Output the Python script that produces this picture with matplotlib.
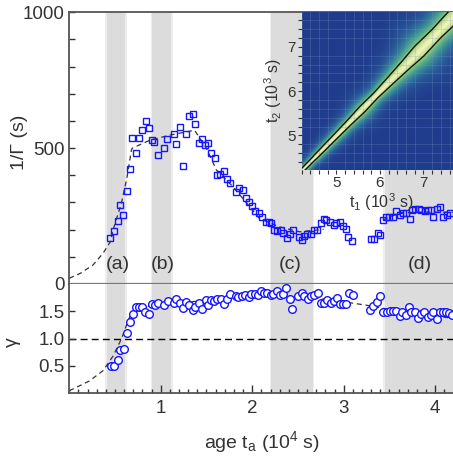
import numpy as np
import matplotlib
matplotlib.use("Agg")
import matplotlib.pyplot as plt
from matplotlib.colors import LinearSegmentedColormap
from matplotlib.ticker import MultipleLocator, FixedLocator

plt.rcParams['font.family'] = ['Liberation Sans', 'DejaVu Sans']
plt.rcParams['mathtext.default'] = 'regular'

# 1/Gamma vs age (top panel), x in 1e4 s, y in s
age_rate = [0.45, 0.49, 0.53, 0.56, 0.59, 0.63, 0.66, 0.69, 0.73, 0.76,
            0.80, 0.84, 0.87, 0.90, 0.93, 0.97, 1.04, 1.07, 1.14, 1.17,
            1.21, 1.24, 1.28, 1.31, 1.35, 1.38, 1.42, 1.45, 1.48, 1.52,
            1.55, 1.59, 1.62, 1.65, 1.69, 1.72, 1.76, 1.82, 1.86, 1.90,
            1.93, 1.97, 2.00, 2.03, 2.07, 2.11, 2.15, 2.18, 2.21, 2.24,
            2.27, 2.31, 2.34, 2.38, 2.41, 2.45, 2.51, 2.54, 2.57, 2.60,
            2.64, 2.67, 2.71, 2.75, 2.78, 2.81, 2.85, 2.89, 2.92, 2.96,
            2.99, 3.03, 3.05, 3.09, 3.30, 3.33, 3.37, 3.40, 3.43, 3.46,
            3.50, 3.54, 3.57, 3.61, 3.65, 3.68, 3.72, 3.75, 3.78, 3.82,
            3.85, 3.89, 3.92, 3.95, 3.98, 4.02, 4.05, 4.09, 4.13, 4.16]
inv_gamma = [170, 196, 233, 292, 253, 343, 424, 537, 483, 539,
             568, 601, 575, 531, 522, 476, 499, 534, 551, 515,
             578, 434, 553, 618, 624, 588, 520, 533, 512, 520,
             483, 464, 402, 404, 417, 387, 370, 338, 354, 347,
             316, 301, 286, 270, 262, 245, 227, 230, 225, 199,
             196, 199, 186, 168, 183, 199, 174, 162, 178, 183,
             185, 199, 199, 223, 239, 236, 230, 216, 223, 228,
             213, 201, 173, 157, 165, 165, 186, 179, 236, 245,
             247, 247, 270, 254, 263, 263, 241, 272, 275, 277,
             272, 268, 272, 272, 247, 276, 284, 247, 254, 260]

# guide lines drawn through the top panel
fit1_x = [0.0, 0.12, 0.26, 0.37, 0.45, 0.48, 0.57, 0.63, 0.68, 0.69,
          0.88, 1.10, 1.37, 1.50, 1.61, 1.79, 2.08, 2.30, 2.52, 2.78]
fit1_y = [21, 39, 70, 113, 156, 199, 297, 389, 493, 500,
          529, 548, 566, 499, 419, 358, 241, 210, 192, 201]
fit2_x = [3.43, 3.50, 3.65, 3.90, 4.25]
fit2_y = [235, 248, 262, 265, 264]

# stretching exponent gamma vs age (bottom panel)
age_exp = [0.46, 0.49, 0.53, 0.56, 0.60, 0.63, 0.66, 0.70, 0.73, 0.76,
           0.80, 0.83, 0.87, 0.90, 0.94, 0.97, 1.04, 1.08, 1.14, 1.17,
           1.21, 1.24, 1.28, 1.31, 1.35, 1.38, 1.42, 1.45, 1.49, 1.52,
           1.55, 1.58, 1.62, 1.66, 1.69, 1.72, 1.76, 1.82, 1.85, 1.89,
           1.92, 1.96, 1.99, 2.03, 2.06, 2.10, 2.13, 2.16, 2.20, 2.23,
           2.27, 2.30, 2.34, 2.37, 2.41, 2.44, 2.50, 2.54, 2.57, 2.61,
           2.64, 2.68, 2.72, 2.75, 2.79, 2.82, 2.86, 2.89, 2.93, 2.96,
           2.99, 3.03, 3.06, 3.10, 3.29, 3.32, 3.36, 3.40, 3.43, 3.47,
           3.51, 3.54, 3.57, 3.61, 3.64, 3.68, 3.71, 3.74, 3.78, 3.81,
           3.85, 3.88, 3.92, 3.95, 3.98, 4.02, 4.05, 4.09, 4.12, 4.15, 4.18]
gamma_exp = [0.50, 0.50, 0.60, 0.79, 0.80, 1.10, 1.31, 1.45, 1.57, 1.57,
             1.57, 1.49, 1.45, 1.63, 1.61, 1.66, 1.62, 1.69, 1.66, 1.73,
             1.66, 1.56, 1.67, 1.62, 1.53, 1.57, 1.65, 1.54, 1.70, 1.62,
             1.70, 1.68, 1.73, 1.73, 1.64, 1.73, 1.81, 1.78, 1.76, 1.78,
             1.80, 1.76, 1.82, 1.82, 1.80, 1.88, 1.84, 1.84, 1.79, 1.82,
             1.87, 1.79, 1.81, 1.92, 1.73, 1.55, 1.78, 1.83, 1.78, 1.72,
             1.78, 1.79, 1.84, 1.66, 1.66, 1.71, 1.66, 1.69, 1.75, 1.63,
             1.63, 1.63, 1.83, 1.80, 1.53, 1.59, 1.67, 1.78, 1.48, 1.48,
             1.50, 1.50, 1.51, 1.42, 1.48, 1.44, 1.57, 1.49, 1.49, 1.38,
             1.45, 1.48, 1.40, 1.44, 1.48, 1.36, 1.48, 1.48, 1.48, 1.46, 1.43]
fitg_x = [0.0, 0.22, 0.37, 0.48, 0.57, 0.63, 0.68, 0.77, 1.0, 1.5,
          2.0, 2.2, 2.6, 2.9, 3.25, 3.6, 3.9, 4.25]
fitg_y = [0.04, 0.22, 0.41, 0.68, 0.99, 1.26, 1.48, 1.57, 1.62, 1.70,
          1.76, 1.78, 1.76, 1.70, 1.61, 1.50, 1.43, 1.36]

bands = [(0.41, 0.61), (0.91, 1.11), (2.21, 2.66), (3.45, 4.40)]
band_names = ['(a)', '(b)', '(c)', '(d)']
band_label_x = [0.53, 1.02, 2.42, 3.83]

W, H = 453, 458
fig = plt.figure(figsize=(W / 100, H / 100), dpi=100)


def px_axes(l, t, r, b):
    return fig.add_axes([l / W, 1 - b / H, (r - l) / W, (b - t) / H])


ax1 = px_axes(69.2, 12.3, 455, 284)
ax2 = px_axes(69.2, 284, 455, 393)
xmax = (455 - 69.2) / 91.5

for ax in (ax1, ax2):
    for x0, x1 in bands:
        ax.axvspan(x0 - 0.02, x1 + 0.02, color='#ededed', lw=0, zorder=0)
        ax.axvspan(x0, x1, color='#dcdcdc', lw=0, zorder=0)
    ax.set_xlim(0, xmax)
    for s in ax.spines.values():
        s.set_color('#555555')
        s.set_linewidth(1.3)
    ax.spines['right'].set_visible(False)
    ax.tick_params(which='both', direction='in', colors='#333333',
                   labelsize=13.5, width=1.0)

# top panel
ax1.plot(fit1_x, fit1_y, color='#333333', lw=0.9, dashes=(4, 3), zorder=1)
ax1.plot(fit2_x, fit2_y, color='#333333', lw=0.9, dashes=(4, 3), zorder=1)
ax1.plot(age_rate, inv_gamma, ls='none', marker='s', ms=4.5, mew=1.0,
         mec='#1515ff', mfc='none', zorder=2)
ax1.set_ylim(0, 1000)
ax1.yaxis.set_major_locator(FixedLocator([0, 500, 1000]))
ax1.yaxis.set_minor_locator(MultipleLocator(100))
ax1.tick_params(which='both', length=4.5, bottom=False, labelbottom=False)
ax1.spines['bottom'].set_color('#777777')
ax1.spines['bottom'].set_linewidth(1.6)
ax1.set_ylabel('1/Γ (s)', fontsize=14, color='#333333')
ax1.yaxis.set_label_coords(-0.108, 0.52)
for name, xl in zip(band_names, band_label_x):
    ax1.text(xl, 70, name, ha='center', va='center', fontsize=14,
             color='#333333', zorder=3)

# bottom panel
ax2.axhline(1.0, color='black', lw=1.0, dashes=(5, 3), zorder=1)
ax2.plot(fitg_x, fitg_y, color='#333333', lw=0.9, dashes=(4, 3), zorder=1)
ax2.plot(age_exp, gamma_exp, ls='none', marker='o', ms=5.5, mew=1.0,
         mec='#1515ff', mfc='white', zorder=2)
ax2.set_ylim(0, 2.0)
ax2.spines['top'].set_visible(False)
ax2.yaxis.set_major_locator(FixedLocator([0.5, 1.0, 1.5]))
ax2.yaxis.set_major_formatter(matplotlib.ticker.FormatStrFormatter('%.1f'))
ax2.xaxis.set_major_locator(FixedLocator([1, 2, 3, 4]))
ax2.xaxis.set_minor_locator(MultipleLocator(0.1))
ax2.tick_params(axis='y', which='major', length=4.5)
ax2.tick_params(axis='x', which='major', length=5.5, pad=5)
ax2.tick_params(axis='x', which='minor', length=3)
ax2.set_ylabel('γ', fontsize=14, color='#333333')
ax2.yaxis.set_label_coords(-0.125, 0.47)
ax2.set_xlabel('age t$_a$ (10$^4$ s)', fontsize=14, color='#333333',
               labelpad=9)

# inset: two-time correlation map built from the measured 1/Gamma
axin = px_axes(301.7, 12.3, 460, 170)
t = np.linspace(4.2, 7.84, 400)
T1, T2 = np.meshgrid(t, t)
ta = (T1 + T2) / 20.0
tau = np.where(ta < age_rate[0], np.interp(ta, fit1_x, fit1_y),
               np.interp(ta, age_rate, inv_gamma)) / 1000.0
C = np.exp(-(np.abs(T1 - T2) / tau) ** 1.3)
cmap = LinearSegmentedColormap.from_list(
    'corr', [(0.0, '#203c8c'), (0.15, '#285598'), (0.35, '#33829a'),
             (0.6, '#5fb684'), (0.8, '#b7dc86'), (1.0, '#f3f3ba')])
axin.imshow(C, extent=(4.2, 7.84, 4.2, 7.84), origin='lower', cmap=cmap,
            vmin=0, vmax=1, aspect='auto', interpolation='bilinear')
axin.contour(T1, T2, C, levels=[np.exp(-0.4 ** 1.3)], colors='#111111',
             linewidths=1.0)
axin.set_xlim(4.2, 7.84)
axin.set_ylim(4.22, 7.78)
axin.grid(True, which='minor', color='#7d97c6', lw=0.5, alpha=0.35)
for s in axin.spines.values():
    s.set_visible(False)
axin.xaxis.set_major_locator(FixedLocator([5, 6, 7]))
axin.yaxis.set_major_locator(FixedLocator([5, 6, 7]))
axin.xaxis.set_minor_locator(MultipleLocator(0.2))
axin.yaxis.set_minor_locator(MultipleLocator(0.2))
axin.tick_params(which='both', direction='out', length=3, width=0.8,
                 colors='#333333', labelsize=11, pad=1.5)
axin.set_xlabel('t$_1$ (10$^3$ s)', fontsize=11.5, color='#333333',
                labelpad=1)
axin.set_ylabel('t$_2$ (10$^3$ s)', fontsize=11.5, color='#333333',
                labelpad=2)

fig.savefig('out.png', dpi=100)
